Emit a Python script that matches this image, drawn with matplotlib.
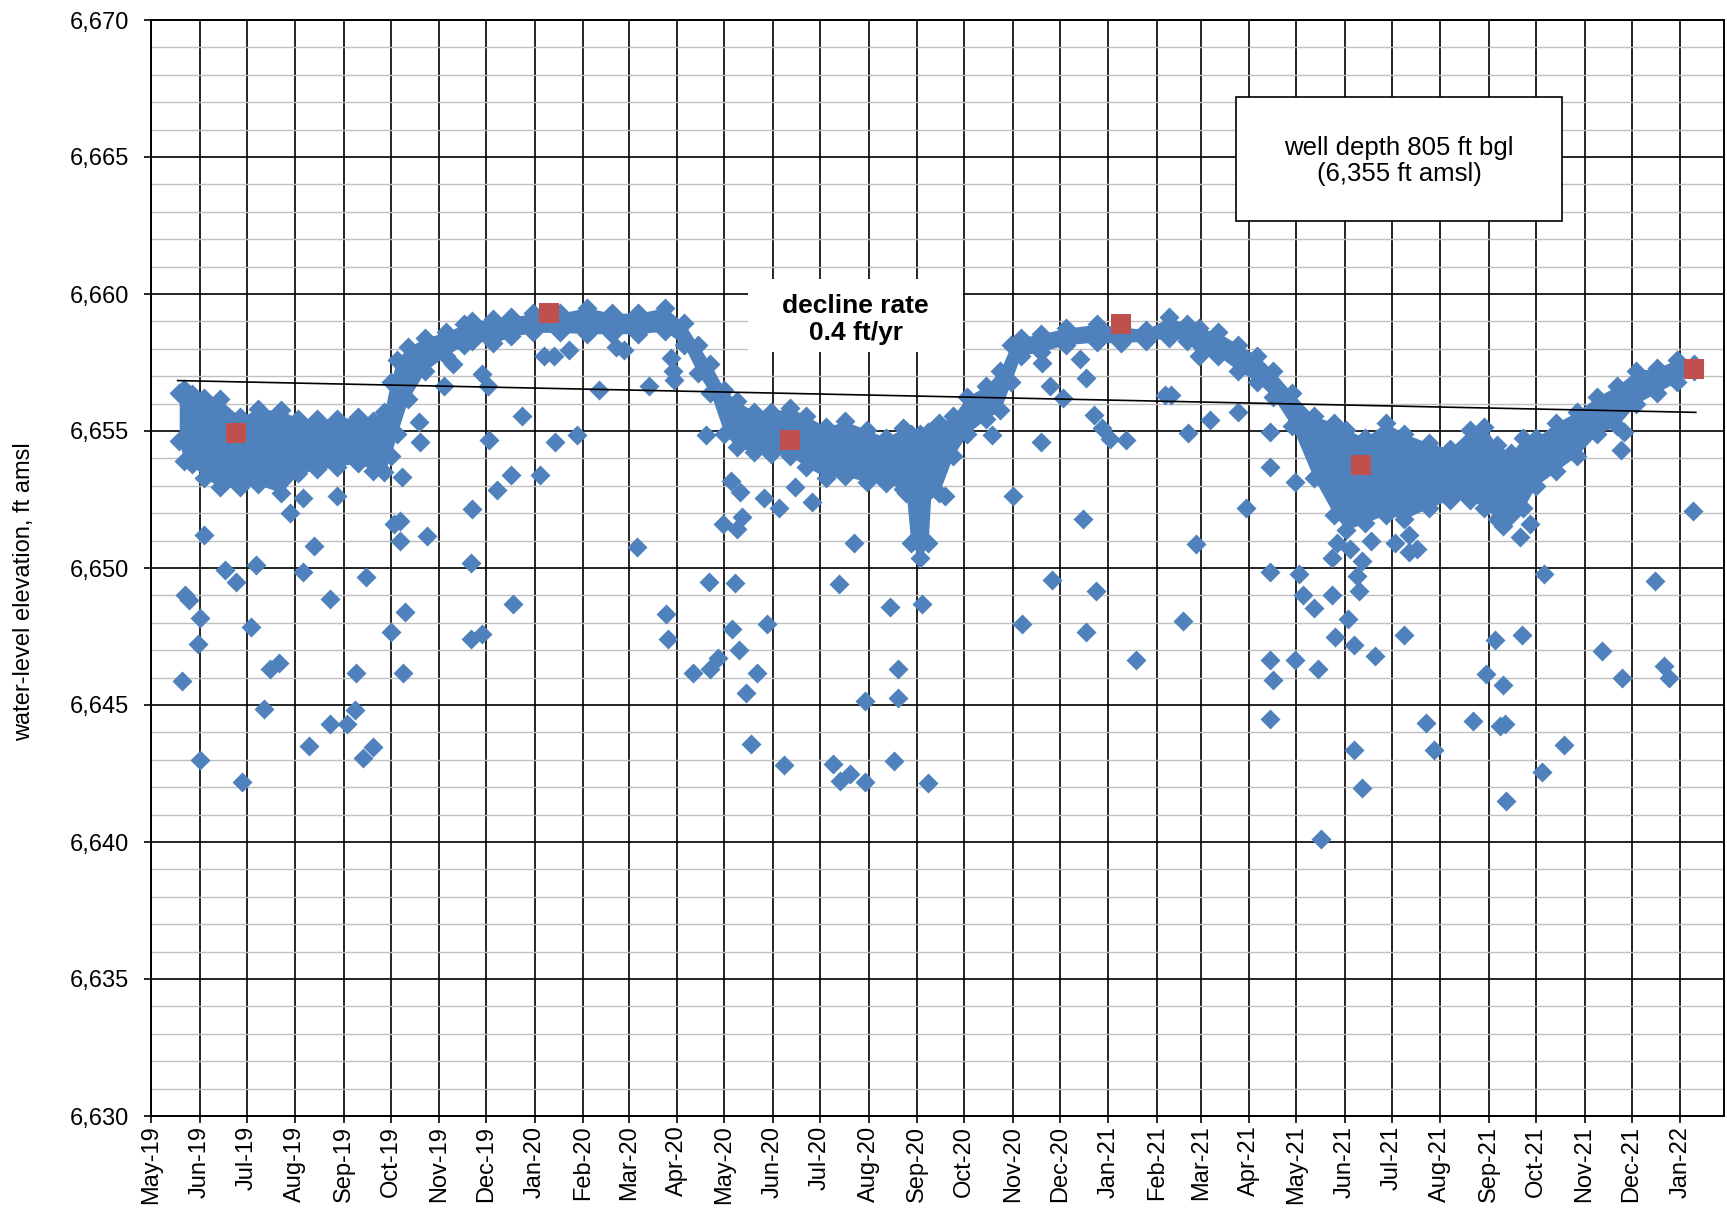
import matplotlib
matplotlib.use("Agg")
import matplotlib.pyplot as plt
import matplotlib.dates as mdates
from matplotlib.patches import Rectangle
from matplotlib.ticker import MultipleLocator, FuncFormatter
import pandas as pd

plt.rcParams["font.family"] = ["Liberation Sans", "DejaVu Sans"]

BLUE, RED = "#4F81BD", "#C0504D"
MINOR_GRID = "#BFBFBF"

# dense part of the record: top and bottom of the point cloud (diamond centres)
band_dates = [
    "2019-05-19", "2019-05-22", "2019-05-27", "2019-06-04", "2019-06-14", "2019-06-27",
    "2019-07-08", "2019-07-23", "2019-08-03", "2019-08-15", "2019-08-28", "2019-09-10",
    "2019-09-20", "2019-09-27", "2019-10-01", "2019-10-05", "2019-10-12", "2019-10-23",
    "2019-11-05", "2019-11-17", "2019-11-22", "2019-12-05", "2019-12-17", "2019-12-31",
    "2020-01-17", "2020-02-03", "2020-02-19", "2020-03-07", "2020-03-24", "2020-04-05",
    "2020-04-14", "2020-04-22", "2020-05-01", "2020-05-09", "2020-05-20", "2020-05-31",
    "2020-06-12", "2020-06-22", "2020-07-05", "2020-07-17", "2020-07-31", "2020-08-12",
    "2020-08-23", "2020-08-25", "2020-08-28", "2020-09-03", "2020-09-08", "2020-09-10",
    "2020-09-15", "2020-09-24", "2020-10-03", "2020-10-15", "2020-10-24", "2020-10-31",
    "2020-11-06", "2020-11-19", "2020-12-05", "2020-12-25", "2021-01-09", "2021-01-25",
    "2021-02-09", "2021-02-20", "2021-02-28", "2021-03-12", "2021-03-25", "2021-04-06",
    "2021-04-16", "2021-04-28", "2021-05-12", "2021-05-25", "2021-06-02", "2021-06-14",
    "2021-06-27", "2021-07-09", "2021-07-25", "2021-08-07", "2021-08-20", "2021-08-29",
    "2021-09-06", "2021-09-15", "2021-09-23", "2021-10-01", "2021-10-14", "2021-10-27",
    "2021-11-09", "2021-11-22", "2021-12-04", "2021-12-17", "2021-12-30", "2022-01-10",
]
band_hi = [
    6656.40, 6656.55, 6656.35, 6656.20, 6656.15, 6655.50,
    6655.80, 6655.75, 6655.45, 6655.45, 6655.45, 6655.50,
    6655.35, 6655.70, 6656.80, 6657.60, 6658.05, 6658.40,
    6658.60, 6658.90, 6659.00, 6659.10, 6659.15, 6659.30,
    6659.30, 6659.50, 6659.30, 6659.30, 6659.50, 6658.95,
    6658.15, 6657.45, 6656.50, 6656.10, 6655.70, 6655.70,
    6655.85, 6655.55, 6655.15, 6655.35, 6655.05, 6654.75,
    6655.10, 6655.00, 6654.90, 6654.90, 6654.95, 6655.00,
    6655.30, 6655.55, 6656.25, 6656.65, 6657.20, 6658.15,
    6658.40, 6658.55, 6658.75, 6658.90, 6658.80, 6658.70,
    6659.15, 6658.90, 6658.75, 6658.60, 6658.15, 6657.75,
    6657.20, 6656.40, 6655.55, 6655.30, 6655.05, 6654.75,
    6655.30, 6654.90, 6654.55, 6654.35, 6655.05, 6655.15,
    6654.50, 6654.20, 6654.75, 6654.75, 6655.30, 6655.70,
    6656.25, 6656.65, 6657.20, 6657.30, 6657.60, 6657.45,
]
band_lo = [
    6654.65, 6653.90, 6653.80, 6653.30, 6652.95, 6652.95,
    6653.05, 6652.75, 6653.45, 6653.60, 6653.70, 6653.85,
    6653.55, 6653.50, 6654.10, 6654.90, 6656.15, 6657.20,
    6657.75, 6658.15, 6658.30, 6658.20, 6658.45, 6658.60,
    6658.60, 6658.55, 6658.55, 6658.55, 6658.65, 6658.15,
    6657.10, 6656.40, 6654.90, 6654.40, 6654.25, 6654.15,
    6654.10, 6653.70, 6653.30, 6653.35, 6653.15, 6653.10,
    6652.90, 6652.75, 6650.90, 6650.35, 6650.90, 6652.90,
    6652.75, 6654.10, 6654.90, 6655.45, 6655.75, 6656.80,
    6657.75, 6657.90, 6658.15, 6658.25, 6658.20, 6658.30,
    6658.40, 6658.30, 6657.75, 6657.75, 6657.20, 6656.80,
    6656.25, 6655.20, 6653.30, 6651.95, 6651.40, 6651.65,
    6651.95, 6651.80, 6652.20, 6652.50, 6652.50, 6652.20,
    6651.80, 6651.95, 6652.20, 6653.00, 6653.55, 6654.10,
    6654.90, 6655.20, 6656.00, 6656.40, 6656.80, 6657.20,
]

# scattered readings away from the dense band
outlier_dates = [
    "2019-06-04", "2019-05-23", "2019-05-25", "2019-06-01", "2019-05-31", "2019-05-21",
    "2019-06-01", "2019-06-17", "2019-06-24", "2019-07-07", "2019-07-04", "2019-06-28",
    "2019-07-16", "2019-07-22", "2019-07-12", "2019-07-29", "2019-08-06", "2019-08-13",
    "2019-08-06", "2019-08-23", "2019-08-28", "2019-08-10", "2019-08-23", "2019-09-03",
    "2019-09-08", "2019-09-09", "2019-09-15", "2019-09-13", "2019-09-20", "2019-10-08",
    "2019-10-19", "2019-10-20", "2019-10-03", "2019-10-07", "2019-10-07", "2019-10-24",
    "2019-10-10", "2019-10-01", "2019-10-09", "2019-11-04", "2019-11-10", "2019-11-22",
    "2019-11-21", "2019-11-21",
    "2019-11-28", "2019-12-02", "2019-12-03", "2019-12-24", "2019-12-17", "2019-12-08",
    "2019-12-18", "2019-11-28", "2020-01-04", "2020-01-07", "2020-01-13", "2020-01-23",
    "2020-01-14", "2020-01-28", "2020-02-11", "2020-02-22", "2020-02-27", "2020-03-14",
    "2020-03-06", "2020-03-28", "2020-03-29", "2020-03-30", "2020-03-25", "2020-03-26",
    "2020-04-11", "2020-04-22", "2020-04-27", "2020-04-19", "2020-04-21", "2020-04-30",
    "2020-05-05", "2020-05-11", "2020-05-09", "2020-05-12", "2020-05-08", "2020-05-06",
    "2020-05-10", "2020-05-22", "2020-05-15", "2020-05-18", "2020-05-26", "2020-06-05",
    "2020-05-28", "2020-06-08",
    "2020-06-15", "2020-06-26", "2020-07-23", "2020-07-13", "2020-08-15", "2020-09-04",
    "2020-08-20", "2020-08-20", "2020-07-30", "2020-07-09", "2020-07-14", "2020-07-20",
    "2020-07-30", "2020-08-17", "2020-09-08", "2020-09-19", "2020-10-19", "2020-11-01",
    "2020-11-19", "2020-11-07", "2020-11-26", "2020-12-16", "2020-12-24", "2020-12-18",
    "2020-11-25", "2020-12-03", "2020-11-20", "2020-12-14", "2020-12-18", "2020-12-23",
    "2020-12-28",
    "2021-01-02", "2021-01-12", "2021-02-06", "2021-02-10", "2021-02-21", "2021-03-07",
    "2021-03-25", "2021-04-14", "2021-04-14", "2021-03-30", "2021-02-26", "2021-02-18",
    "2021-01-19", "2021-04-14", "2021-05-03", "2021-05-05", "2021-05-12", "2021-05-24",
    "2021-04-14", "2021-04-16", "2021-04-30", "2021-05-15", "2021-04-14", "2021-04-30",
    "2021-05-24", "2021-06-03", "2021-05-26", "2021-06-07", "2021-06-20", "2021-07-09",
    "2021-06-07", "2021-06-12", "2021-05-17", "2021-06-12", "2021-06-09", "2021-06-10",
    "2021-05-27", "2021-06-04", "2021-06-18", "2021-07-03", "2021-07-12",
    "2021-07-17", "2021-07-12", "2021-07-23", "2021-07-28", "2021-08-22", "2021-09-08",
    "2021-09-11", "2021-09-05", "2021-09-22", "2021-08-30", "2021-09-10", "2021-09-12",
    "2021-10-05", "2021-10-19", "2021-10-06", "2021-09-21", "2021-09-27", "2021-09-10",
    "2021-11-12", "2021-11-25", "2021-12-16", "2021-12-22", "2021-12-25", "2022-01-09",
    "2021-11-24", "2021-11-26",
]
outlier_vals = [
    6651.22, 6649.00, 6648.85, 6648.19, 6647.24, 6645.89,
    6642.99, 6649.91, 6649.50, 6650.11, 6647.84, 6642.20,
    6646.32, 6646.53, 6644.84, 6652.00, 6652.57, 6650.81,
    6649.84, 6648.86, 6652.64, 6643.51, 6644.30, 6644.30,
    6644.80, 6646.15, 6649.66, 6643.08, 6643.46, 6653.31,
    6655.34, 6654.61, 6651.59, 6651.70, 6650.99, 6651.16,
    6648.39, 6647.68, 6646.15, 6656.66, 6657.43, 6652.14,
    6650.18, 6647.41,
    6657.07, 6656.66, 6654.68, 6655.54, 6653.38, 6652.84,
    6648.69, 6647.60, 6653.38, 6657.74, 6657.74, 6657.95,
    6654.61, 6654.86, 6656.49, 6658.08, 6657.95, 6656.66,
    6650.76, 6657.68, 6657.20, 6656.86, 6648.32, 6647.41,
    6646.16, 6646.32, 6646.73, 6654.84, 6649.50, 6651.59,
    6653.18, 6652.78, 6651.43, 6651.86, 6649.46, 6647.78,
    6647.00, 6646.16, 6645.45, 6643.59, 6652.54, 6652.20,
    6647.95, 6642.81,
    6652.95, 6652.41, 6650.92, 6649.43, 6648.59, 6648.69,
    6646.30, 6645.24, 6645.15, 6642.84, 6642.24, 6642.47,
    6642.18, 6642.95, 6642.14, 6652.61, 6654.84, 6652.64,
    6654.61, 6647.95, 6649.57, 6651.80, 6649.16, 6647.68,
    6656.66, 6656.19, 6657.47, 6657.61, 6656.93, 6655.58,
    6655.11,
    6654.70, 6654.68, 6656.30, 6656.30, 6654.91, 6655.41,
    6655.68, 6654.97, 6653.69, 6652.20, 6650.89, 6648.05,
    6646.66, 6649.84, 6649.77, 6649.03, 6648.55, 6649.00,
    6646.66, 6645.92, 6646.66, 6646.32, 6644.50, 6653.15,
    6650.38, 6648.15, 6647.47, 6647.20, 6646.80, 6647.54,
    6643.35, 6641.97, 6640.11, 6650.24, 6649.70, 6649.16,
    6650.90, 6650.70, 6651.00, 6650.90, 6650.60,
    6650.68, 6651.19, 6644.36, 6643.35, 6644.43, 6644.23,
    6644.30, 6647.38, 6647.57, 6646.12, 6645.72, 6641.50,
    6642.54, 6643.55, 6649.77, 6651.12, 6651.59, 6651.53,
    6646.97, 6645.99, 6649.54, 6646.43, 6645.99, 6652.07,
    6654.30, 6654.97,
]

# manual measurements (red squares)
manual_dates = ["2019-06-24", "2020-01-10", "2020-06-12", "2021-01-09", "2021-06-11", "2022-01-10"]
manual_vals = [6654.92, 6659.31, 6654.68, 6658.92, 6653.76, 6657.27]

# linear trend end points
trend_dates = ["2019-05-18", "2022-01-11"]
trend_vals = [6656.84, 6655.68]


def main() -> None:
    bd = pd.to_datetime(band_dates)
    od = pd.to_datetime(outlier_dates)

    fig = plt.figure(figsize=(17.27, 12.13), dpi=100)
    fig.patch.set_facecolor("white")
    ax = fig.add_axes([151 / 1727, 1 - 1116 / 1213, 1573 / 1727, 1096 / 1213])

    ax.fill_between(bd, band_lo, band_hi, color=BLUE, lw=0, zorder=3)
    ax.scatter(bd, band_hi, marker="D", s=104, color=BLUE, lw=0, zorder=3)
    ax.scatter(bd, band_lo, marker="D", s=104, color=BLUE, lw=0, zorder=3)
    ax.scatter(od, outlier_vals, marker="D", s=104, color=BLUE, lw=0, zorder=3)
    ax.plot(pd.to_datetime(trend_dates), trend_vals, color="black", lw=1.2, zorder=4)
    ax.scatter(pd.to_datetime(manual_dates), manual_vals, marker="s", s=213,
               color=RED, lw=0, zorder=5)

    ax.set_xlim(pd.Timestamp("2019-05-01"), pd.Timestamp("2022-01-29"))
    ax.set_ylim(6630, 6670)
    ax.xaxis.set_major_locator(mdates.MonthLocator())
    ax.xaxis.set_major_formatter(mdates.DateFormatter("%b-%y"))
    ax.yaxis.set_major_locator(MultipleLocator(5))
    ax.yaxis.set_minor_locator(MultipleLocator(1))
    ax.yaxis.set_major_formatter(FuncFormatter(lambda v, _: f"{v:,.0f}"))

    ax.set_axisbelow(True)
    ax.grid(which="minor", axis="y", color=MINOR_GRID, lw=1.0)
    ax.grid(which="major", axis="both", color="black", lw=1.2)
    for side in ax.spines.values():
        side.set_color("black")
        side.set_linewidth(1.4)
    ax.tick_params(which="minor", length=0)
    ax.tick_params(axis="y", which="major", length=5, width=1.2, pad=11, labelsize=17)
    ax.tick_params(axis="x", which="major", length=5, width=1.2, pad=2, labelsize=17,
                   labelrotation=90)

    ax.set_ylabel("water-level elevation, ft amsl", fontsize=17)
    ax.yaxis.set_label_coords(-0.074, 0.478)

    # decline-rate label on a borderless white box
    ax.add_patch(Rectangle((0.3795, 0.697), 0.1365, 0.0667, transform=ax.transAxes,
                           facecolor="white", edgecolor="none", zorder=6))
    ax.text(0.448, 0.727, "decline rate\n0.4 ft/yr", transform=ax.transAxes,
            ha="center", va="center", fontsize=19, fontweight="bold",
            linespacing=1.15, zorder=7)

    ax.add_patch(Rectangle((0.6898, 0.817), 0.2072, 0.1127, transform=ax.transAxes,
                           facecolor="white", edgecolor="black", lw=1.2, zorder=6))
    ax.text(0.7934, 0.871, "well depth 805 ft bgl\n(6,355 ft amsl)", transform=ax.transAxes,
            ha="center", va="center", fontsize=18.5, linespacing=1.1, zorder=7)

    fig.savefig("out.png", dpi=100, facecolor="white")


if __name__ == "__main__":
    main()
